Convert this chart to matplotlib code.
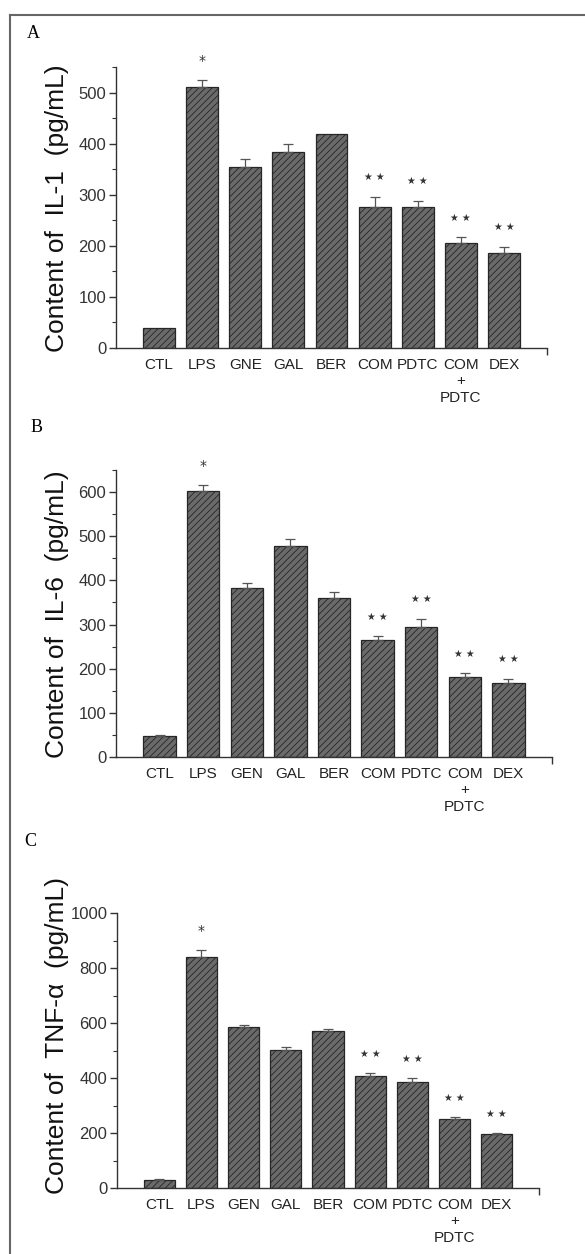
import matplotlib
matplotlib.use("Agg")
import matplotlib.pyplot as plt
from matplotlib.lines import Line2D
from matplotlib.ticker import MultipleLocator, FixedLocator

plt.rcParams['font.family'] = ['Liberation Sans', 'DejaVu Sans']
plt.rcParams['hatch.linewidth'] = 0.6

# data
labels_a = ["CTL", "LPS", "GNE", "GAL", "BER", "COM", "PDTC", "COM\n+\nPDTC", "DEX"]
labels_bc = ["CTL", "LPS", "GEN", "GAL", "BER", "COM", "PDTC", "COM\n+\nPDTC", "DEX"]

il1 = [39, 510, 355, 384, 419, 276, 276, 206, 186]
il1_err = [0, 14, 15, 16, 0, 20, 12, 11, 12]

il6 = [48, 602, 382, 477, 359, 264, 295, 182, 168]
il6_err = [2, 14, 11, 16, 14, 9, 18, 8, 9]

tnf = [28, 840, 585, 502, 571, 407, 385, 251, 196]
tnf_err = [3, 25, 7, 11, 9, 11, 15, 7, 4]

stars = ["", "*", "", "", "", "★ ★", "★ ★", "★ ★", "★ ★"]

panels = [
    # letter, labels, values, errors, ylabel, ymax, major, minor, rect, letter pos, ylabel y
    ("A", labels_a, il1, il1_err, "Content of  IL-1  (pg/mL)", 550, 100, 50,
     [116, 67, 547, 348], (33, 33), 208),
    ("B", labels_bc, il6, il6_err, "Content of  IL-6  (pg/mL)", 650, 100, 50,
     [116, 470, 552, 757], (37, 428), 614),
    ("C", labels_bc, tnf, tnf_err, "Content of  TNF-α  (pg/mL)", 1000, 200, 100,
     [117, 913, 539, 1188], (30, 842), 1035),
]

W, H = 585, 1254
fig = plt.figure(figsize=(W / 100, H / 100), dpi=100)

for letter, labels, vals, errs, ylab, ymax, major, minor, r, lpos, ly in panels:
    x0, y0, x1, y1 = r
    ax = fig.add_axes([x0 / W, 1 - y1 / H, (x1 - x0) / W, (y1 - y0) / H])
    xs = list(range(1, len(vals) + 1))
    ax.bar(xs, vals, width=0.74, color='#6a6a6a', edgecolor='#262626',
           linewidth=0.9, hatch='/////')
    ax.errorbar([x for x, e in zip(xs, errs) if e > 0],
                [v for v, e in zip(vals, errs) if e > 0],
                yerr=[[0] * sum(1 for e in errs if e > 0), [e for e in errs if e > 0]],
                fmt='none', ecolor='#555555', elinewidth=0.9, capsize=3.5, capthick=0.9)
    for x, v, e, s in zip(xs, vals, errs, stars):
        if s:
            ax.annotate(s, (x, v + e), xytext=(0, 14), textcoords='offset points',
                        ha='center', va='center', fontsize=7 if s != "*" else 10,
                        color='#333333', family=['DejaVu Sans'])
    ax.set_xlim(0, 10)
    ax.set_ylim(0, ymax)
    ax.spines['top'].set_visible(False)
    ax.spines['right'].set_visible(False)
    for sp in ('left', 'bottom'):
        ax.spines[sp].set_linewidth(1.0)
        ax.spines[sp].set_color('#333333')
    ax.yaxis.set_major_locator(MultipleLocator(major))
    ax.yaxis.set_minor_locator(MultipleLocator(minor))
    ax.set_xticks(xs)
    ax.set_xticklabels(labels, fontsize=11, linespacing=1.25, va='top', color='#222222')
    ax.xaxis.set_minor_locator(FixedLocator([2, 4, 6, 8, 10]))
    ax.tick_params(axis='x', which='major', length=0, pad=7)
    ax.tick_params(axis='x', which='minor', length=5, width=1.0, color='#333333')
    ax.tick_params(axis='y', which='major', length=5, width=1.0, labelsize=12,
                   color='#333333', labelcolor='#333333', pad=2)
    ax.tick_params(axis='y', which='minor', length=3, width=0.8, color='#333333')
    fig.text(lpos[0] / W, 1 - lpos[1] / H, letter, family='Liberation Serif',
             fontsize=13, ha='center', va='center')
    fig.text(57 / W, 1 - ly / H, ylab, rotation=90, fontsize=19,
             ha='center', va='center', color='#111111')

# outer frame (top and left edges)
fig.add_artist(Line2D([10 / W, 1.0], [1 - 15 / H, 1 - 15 / H], color='#666666', lw=1.5))
fig.add_artist(Line2D([10 / W, 10 / W], [0, 1 - 15 / H], color='#666666', lw=1.5))

fig.savefig("out.png", dpi=100)
